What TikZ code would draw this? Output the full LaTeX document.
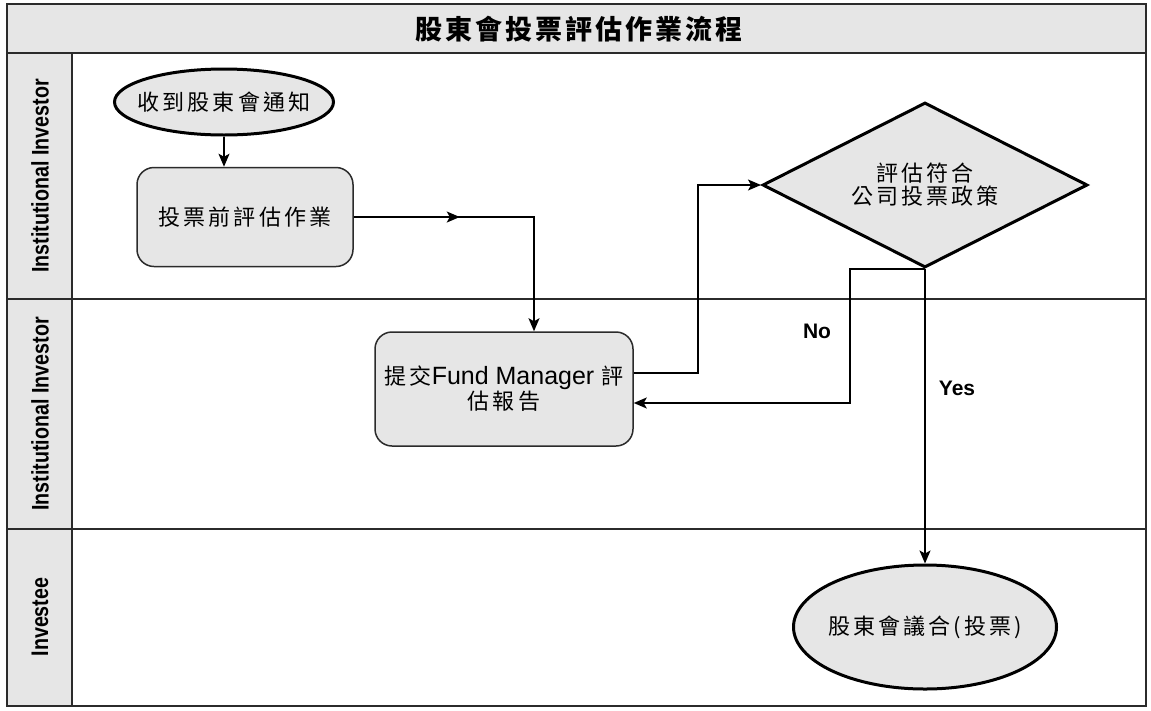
\documentclass[tikz,border=0pt]{standalone}
\usepackage{fontspec}
\usepackage{graphicx}
\setmainfont{Liberation Sans}
\newfontfamily\cjk{Noto Sans CJK TC}[LetterSpace=14]
\newfontfamily\cjkt{Noto Sans CJK TC}[LetterSpace=11]
\usetikzlibrary{shapes.geometric,arrows.meta,decorations.markings}
\definecolor{boxgray}{HTML}{E6E6E6}
\definecolor{framec}{HTML}{2B2B2B}
\begin{document}
\begin{tikzpicture}[x=1pt,y=-1pt,
  lane/.style={draw=framec, line width=1.5pt},
  lanelabel/.style={rotate=90, font=\bfseries\fontsize{24}{24}\selectfont, inner sep=0pt},
  term/.style={ellipse, draw=black, line width=3pt, fill=boxgray, inner xsep=-14pt, inner ysep=0pt, font=\fontsize{22}{24}\selectfont\cjk},
  proc/.style={rectangle, rounded corners=17pt, draw=framec, line width=1.5pt, fill=boxgray, inner sep=0pt, align=center, font=\fontsize{22}{25}\selectfont\cjk},
  decision/.style={diamond, aspect=2, draw=black, line width=3pt, fill=boxgray, inner sep=0pt, align=center, font=\fontsize{22}{23}\selectfont\cjk},
  conn/.style={draw=black, line width=1.5pt, -{Stealth[length=13pt,width=11pt,inset=3pt]}},
  yn/.style={font=\bfseries\fontsize{21}{21}\selectfont, inner sep=0pt}
]
\useasboundingbox (0,0) rectangle (1151,710);
% frame
\fill[boxgray] (7,4) rectangle (1146,53);
\fill[boxgray] (7,53) rectangle (72,706);
\draw[lane] (7,4) rectangle (1146,706);
\draw[lane] (7,53) -- (1146,53);
\draw[lane] (7,299) -- (1146,299);
\draw[lane] (7,529) -- (1146,529);
\draw[lane] (72,53) -- (72,706);
% title and lane labels
\node[font=\bfseries\fontsize{27}{27}\selectfont\cjkt, inner sep=0pt] (title) at (579,29) {股東會投票評估作業流程};
\node[lanelabel] (l1) at (40,176) {\scalebox{0.82}[1]{Institutional Investor}};
\node[lanelabel] (l2) at (40,414) {\scalebox{0.82}[1]{Institutional Investor}};
\node[lanelabel] (l3) at (40,617) {\scalebox{0.82}[1]{Investee}};
% nodes
\node[term, minimum width=219pt, minimum height=66pt] (start) at (224,102) {收到股東會通知};
\node[proc, minimum width=216pt, minimum height=99pt] (pre) at (245,217) {投票前評估作業};
\node[proc, minimum width=258pt, minimum height=114pt] (fm) at (504,389) {{\cjk 提交}{\rmfamily\fontsize{25}{25}\selectfont Fund Manager }{\cjk 評}\\估報告};
\node[decision, minimum width=325pt, minimum height=165pt] (dia) at (925,185) {評估符合\\公司投票政策};
\node[term, minimum width=263pt, minimum height=124pt] (end) at (925,627) {股東會議合(投票)};
% connectors
\draw[conn] (start.south) -- (start.south |- pre.north);
\draw[conn, postaction={decorate, decoration={markings, mark=at position 0.36 with {\arrow{Stealth[length=13pt,width=11pt,inset=3pt]}}}}] (pre.east) -| ([xshift=30pt]fm.north);
\draw[conn] ([yshift=16pt]fm.east) -- ++(64,0) |- (dia.west);
\draw[conn] (dia.south) -- ++(-75,0) |- ([yshift=-14pt]fm.east);
\draw[conn] (dia.south) -- (end.north);
% labels
\node[yn] (no) at (817,331) {No};
\node[yn] (yes) at (957,388) {Yes};
\end{tikzpicture}
\end{document}
